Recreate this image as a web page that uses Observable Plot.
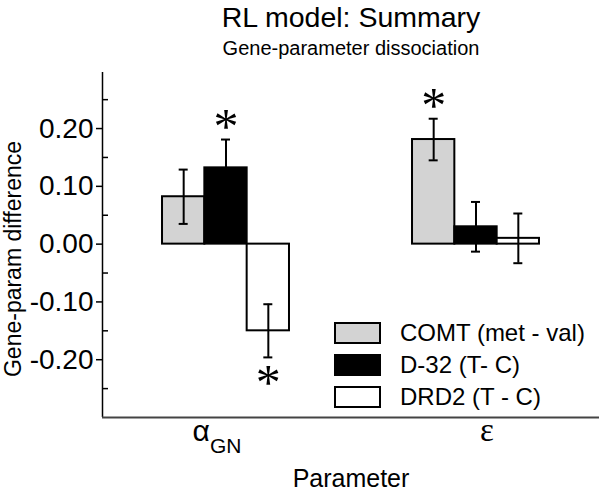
<!DOCTYPE html>
<html><head><meta charset="utf-8">
<script src="https://cdn.jsdelivr.net/npm/d3@7"></script>
<script src="https://cdn.jsdelivr.net/npm/@observablehq/plot@0.6"></script>
<style>
body{margin:0;background:#fff;}
#wrap{position:relative;width:601px;height:490px;font-family:"Liberation Sans",Arial,sans-serif;}
</style></head><body><div id="wrap"></div>
<script>
const title = "RL model: Summary";
const subtitle = "Gene-parameter dissociation";
const params = ["alpha", "epsilon"];
const paramLabels = ["αGN", "ε"];
const genes = ["COMT (met - val)", "D-32 (T- C)", "DRD2 (T - C)"];
const geneFill = ["#d3d3d3", "#000000", "#ffffff"];
const alphaValues = [0.082, 0.132, -0.150];
const alphaSE = [0.047, 0.049, 0.046];
const epsValues = [0.181, 0.030, 0.010];
const epsSE = [0.036, 0.043, 0.043];
const alphaSig = [false, true, true];
const epsSig = [true, false, false];
const yTicks = [-0.2, -0.1, 0, 0.1, 0.2];
const yMinor = [-0.25, -0.15, -0.05, 0.05, 0.15, 0.25];
const yLabel = "Gene-param difference";
const xLabel = "Parameter";

const seriesVals = [alphaValues, epsValues];
const seriesSE = [alphaSE, epsSE];
const seriesSig = [alphaSig, epsSig];
const rows = [];
params.forEach((p, i) => genes.forEach((g, j) => rows.push({
  gi: i, gj: j, param: p, gene: g,
  value: seriesVals[i][j], se: seriesSE[i][j], sig: seriesSig[i][j]
})));

const W = 601, H = 490, ML = 102, MR = 2, MT = 72, MB = 73;
const BW = 0.1693, CAP = 0.018;
const XD = [-0.494, 1.494], YD = [-0.3, 0.297];
const cx = d => d.gi + (d.gj - 1) * BW;

const plot = Plot.plot({
  width: W, height: H, marginLeft: ML, marginRight: MR, marginTop: MT, marginBottom: MB,
  style: {fontFamily: "Liberation Sans, Arial, sans-serif", background: "white", color: "black", overflow: "visible"},
  x: {domain: XD, axis: null},
  y: {domain: YD, axis: null},
  color: {domain: genes, range: geneFill},
  marks: [
    Plot.rect(rows, {x1: d => cx(d) - BW / 2, x2: d => cx(d) + BW / 2, y1: 0, y2: "value", fill: "gene", stroke: "black", strokeWidth: 2}),
    Plot.ruleX(rows, {x: cx, y1: d => d.value - d.se, y2: d => d.value + d.se, stroke: "black", strokeWidth: 2}),
    Plot.ruleY(rows, {y: d => d.value + d.se, x1: d => cx(d) - CAP, x2: d => cx(d) + CAP, stroke: "black", strokeWidth: 2}),
    Plot.ruleY(rows, {y: d => d.value - d.se, x1: d => cx(d) - CAP, x2: d => cx(d) + CAP, stroke: "black", strokeWidth: 2}),
    Plot.text(rows.filter(d => d.sig && d.value > 0), {x: cx, y: d => d.value + d.se, text: () => "*", fontFamily: "Liberation Serif", fontSize: 50, lineAnchor: "bottom", dy: 3}),
    Plot.text(rows.filter(d => d.sig && d.value < 0), {x: cx, y: d => d.value - d.se, text: () => "*", fontFamily: "Liberation Serif", fontSize: 50, lineAnchor: "bottom", dy: 42}),
    Plot.ruleX([XD[0]], {stroke: "black", strokeWidth: 1.5}),
    Plot.ruleY([YD[0]], {stroke: "#444", strokeWidth: 2}),
    Plot.axisY({ticks: yTicks, tickFormat: d => d.toFixed(2), tickSize: 6, tickPadding: 3, fontSize: 28, label: null, strokeWidth: 1.5}),
    Plot.tickY(yMinor, {y: d => d, insetRight: W - ML - MR - 6, strokeWidth: 1.5}),
    Plot.text(params, {x: (d, i) => i, text: (d, i) => paramLabels[i], frameAnchor: "bottom", lineAnchor: "bottom", dy: 23, fontSize: 30}),
    Plot.text([xLabel], {frameAnchor: "bottom", lineAnchor: "bottom", dy: 69, fontSize: 25}),
    Plot.text([yLabel], {frameAnchor: "left", textAnchor: "middle", rotate: -90, dx: -89, dy: 14, fontSize: 23}),
    Plot.text([title], {frameAnchor: "top", lineAnchor: "bottom", dy: -46, fontSize: 28.5}),
    Plot.text([subtitle], {frameAnchor: "top", lineAnchor: "bottom", dy: -18, fontSize: 20})
  ]
});

const labelNudge = {"αGN": -9, "ε": 11};
d3.select(plot).selectAll("text").filter(function () { return this.textContent === "αGN"; })
  .each(function () {
    this.textContent = "α";
    d3.select(this).attr("dx", labelNudge["αGN"]);
    d3.select(this).append("tspan").attr("font-size", 21).attr("dy", 12).text("GN");
  });
d3.select(plot).selectAll("text").filter(function () { return this.textContent === "ε"; })
  .attr("font-size", 33).attr("font-family", "Liberation Serif").attr("dx", labelNudge["ε"]);

const wrap = document.getElementById("wrap");
plot.style.position = "absolute";
plot.style.left = "0px";
plot.style.top = "0px";
wrap.appendChild(plot);

const leg = d3.select(wrap).append("svg")
  .attr("width", 264).attr("height", 110)
  .style("position", "absolute").style("left", "334px").style("top", "312px")
  .style("font-family", "Liberation Sans, Arial, sans-serif");
const item = leg.selectAll("g").data(genes).join("g").attr("transform", (d, i) => `translate(1,${11 + i * 32})`);
item.append("rect").attr("width", 45).attr("height", 20).attr("fill", (d, i) => geneFill[i]).attr("stroke", "black").attr("stroke-width", 2);
item.append("text").attr("x", 65).attr("y", 10).attr("dy", "0.35em").attr("font-size", 24).attr("fill", "black").text(d => d);
</script></body></html>
